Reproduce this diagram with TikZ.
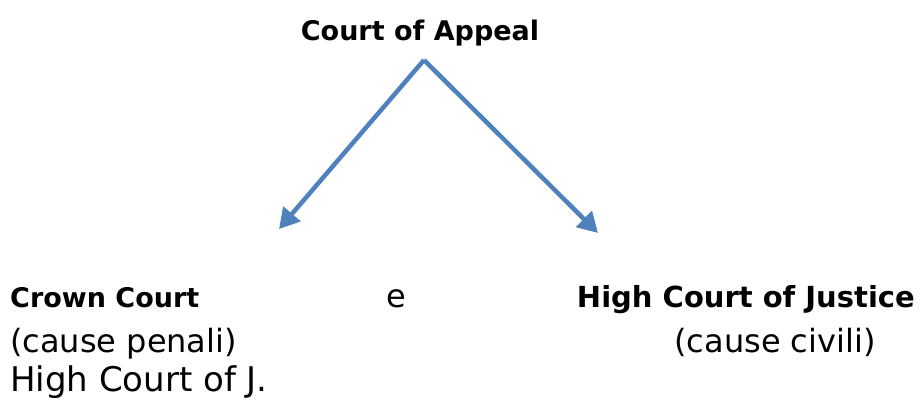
\documentclass[tikz,border=0pt]{standalone}
\usepackage{fontspec}
\setmainfont{DejaVu Sans}
\usetikzlibrary{arrows.meta}
\definecolor{arrowblue}{HTML}{4F81BD}
\begin{document}
\begin{tikzpicture}[x=1pt,y=-1pt,
  boldlab/.style={inner sep=0pt,font=\fontsize{27}{32}\selectfont\bfseries},
  reglab/.style={inner sep=0pt,font=\fontsize{32}{38}\selectfont},
  link/.style={draw=arrowblue,line width=4.5pt,-{Triangle[length=20pt,width=22pt]}}]
\useasboundingbox (0,0) rectangle (920,400);
\node[boldlab,anchor=base] (appeal) at (420,40) {Court of Appeal};
\coordinate (apex) at (424,60);
\coordinate (lefttip) at (279,229);
\coordinate (righttip) at (598,233);
\draw[link] (apex) -- (lefttip);
\draw[link] (apex) -- (righttip);
\node[boldlab,anchor=base west] (crown) at (10,307) {Crown Court};
\node[reglab,anchor=base] (conj) at (396,307) {e};
\node[boldlab,font=\fontsize{29}{34}\selectfont\bfseries,anchor=base east] (high) at (915,307) {High Court of Justice};
\node[reglab,anchor=base west] (penali) at (10,352) {(cause penali)};
\node[reglab,anchor=base] (civili) at (775,352) {(cause civili)};
\node[reglab,font=\fontsize{34}{40}\selectfont,anchor=base west] (highj) at (10,391) {High Court of J.};
\end{tikzpicture}
\end{document}
